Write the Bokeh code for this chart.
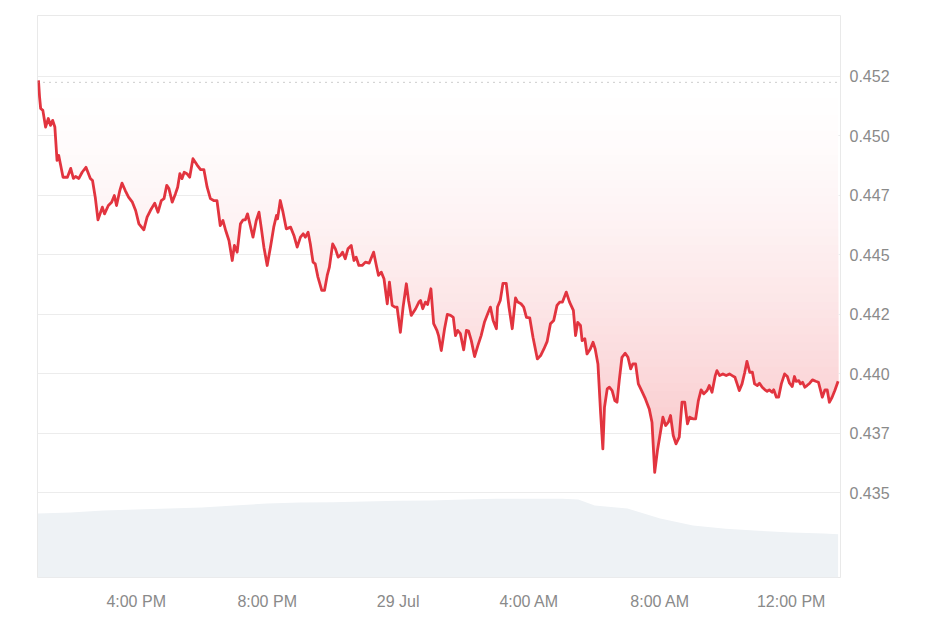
import numpy as np
from datetime import datetime, timedelta
from bokeh.plotting import figure
from bokeh.models import Range1d, FixedTicker, LinearAxis, Span
from bokeh.embed import file_html
from bokeh.resources import INLINE

# ---------------- data ----------------
START = datetime(2024, 7, 28, 13, 0)

# minutes after 28 Jul 13:00
price_minutes = [
    1, 3, 5, 9, 14, 19, 23, 27, 31, 35, 38, 41, 46, 54, 60, 65, 69, 75, 81, 88,
    96, 100, 105, 110, 118, 122, 129, 135, 140, 144, 150, 154, 160, 166, 173, 179, 185, 194, 200, 206,
    214, 220, 226, 231, 236, 240, 246, 252,
    256, 260, 264, 268, 273, 278, 284, 292, 298, 304, 310, 316, 322, 328, 334, 339, 344, 350, 356, 360,
    365, 371, 376, 380, 384, 389, 394, 400, 405, 409, 414, 420, 426, 432, 437, 439, 444, 449, 455, 463,
    469, 475, 481, 486, 490,
    495, 499, 504, 508, 513, 520, 525, 530, 534, 540, 545, 550, 554, 558, 563, 568, 574, 579, 583, 588,
    594, 600, 607, 615, 620, 624, 629, 634, 640, 644, 649, 654, 658, 664, 669, 675, 679, 684, 692, 698,
    701, 705, 710, 714, 720, 725, 731, 734, 739,
    745, 750, 756, 761, 765, 769, 774, 780, 785, 789, 794, 800, 806, 812, 818, 824, 829, 834, 840, 842,
    847, 852, 858, 863, 869, 875, 879, 885, 890, 895, 901, 907, 915, 921, 927, 933, 939, 945, 951, 956,
    961, 968, 974, 981, 985, 989, 994,
    997, 1002, 1006, 1012, 1017, 1021, 1026, 1031, 1035, 1038, 1043, 1047, 1052, 1057, 1061, 1065, 1070, 1076, 1081, 1086,
    1090, 1095, 1100, 1106, 1113, 1120, 1125, 1130, 1135, 1139, 1145, 1150, 1155, 1159, 1164, 1169, 1175, 1180, 1185, 1190,
    1194, 1200, 1205, 1210, 1215, 1220, 1226, 1230, 1235, 1241,
    1244, 1249, 1255, 1261, 1267, 1272, 1277, 1281, 1285, 1290, 1295, 1299, 1304, 1309, 1313, 1318, 1322, 1327, 1332, 1336,
    1340, 1345, 1348, 1353, 1357, 1362, 1368, 1373, 1377, 1382, 1386, 1389, 1394, 1397, 1401, 1405, 1409, 1414, 1419, 1425,
    1430, 1434, 1437, 1442, 1446, 1450, 1455, 1460, 1466,
]

prices = [
    0.45233, 0.45163, 0.45115, 0.45107, 0.45037, 0.45073, 0.45044, 0.45065, 0.45037, 0.44897,
    0.44918, 0.44884, 0.44826, 0.44826, 0.44863, 0.44821, 0.44829, 0.44821, 0.44847, 0.44868,
    0.44821, 0.44812, 0.44742, 0.44647, 0.44700, 0.44672, 0.44707, 0.44721, 0.44749, 0.44707,
    0.44770, 0.44801, 0.44770, 0.44742, 0.44721, 0.44686, 0.44630, 0.44605, 0.44658, 0.44686,
    0.44717, 0.44679, 0.44728, 0.44736, 0.44792, 0.44778, 0.44721, 0.44757,
    0.44784, 0.44841, 0.44820, 0.44847, 0.44841, 0.44826, 0.44904, 0.44876, 0.44858, 0.44858,
    0.44784, 0.44736, 0.44728, 0.44728, 0.44623, 0.44644, 0.44602, 0.44560, 0.44476, 0.44539,
    0.44511, 0.44630, 0.44647, 0.44647, 0.44672, 0.44623, 0.44574, 0.44644, 0.44679, 0.44616,
    0.44532, 0.44455, 0.44532, 0.44616, 0.44665, 0.44651, 0.44728, 0.44679, 0.44609, 0.44616,
    0.44581, 0.44532, 0.44574, 0.44588, 0.44574,
    0.44595, 0.44546, 0.44469, 0.44462, 0.44406, 0.44350, 0.44350, 0.44413, 0.44448, 0.44546,
    0.44525, 0.44490, 0.44497, 0.44511, 0.44483, 0.44525, 0.44539, 0.44476, 0.44490, 0.44455,
    0.44455, 0.44469, 0.44465, 0.44511, 0.44455, 0.44413, 0.44427, 0.44399, 0.44294, 0.44385,
    0.44287, 0.44280, 0.44280, 0.44174, 0.44280, 0.44378, 0.44308, 0.44245, 0.44273, 0.44301,
    0.44308, 0.44273, 0.44301, 0.44291, 0.44357, 0.44210, 0.44182, 0.44160, 0.44097,
    0.44189, 0.44249, 0.44245, 0.44237, 0.44160, 0.44182, 0.44168, 0.44100, 0.44182, 0.44179,
    0.44139, 0.44072, 0.44118, 0.44160, 0.44216, 0.44252, 0.44280, 0.44224, 0.44189, 0.44280,
    0.44308, 0.44380, 0.44380, 0.44280, 0.44189, 0.44319, 0.44301, 0.44294, 0.44280, 0.44237,
    0.44235, 0.44153, 0.44062, 0.44076, 0.44104, 0.44136, 0.44210, 0.44224, 0.44287, 0.44301,
    0.44301, 0.44343, 0.44301, 0.44266, 0.44160, 0.44216, 0.44203,
    0.44139, 0.44147, 0.44083, 0.44104, 0.44132, 0.44104, 0.44041, 0.43831, 0.43684, 0.43859,
    0.43936, 0.43943, 0.43929, 0.43887, 0.43880, 0.43971, 0.44069, 0.44086, 0.44069, 0.44020,
    0.44041, 0.44041, 0.43957, 0.43929, 0.43894, 0.43852, 0.43796, 0.43585, 0.43677, 0.43733,
    0.43817, 0.43782, 0.43796, 0.43824, 0.43740, 0.43705, 0.43733, 0.43880, 0.43880, 0.43789,
    0.43817, 0.43810, 0.43810, 0.43887, 0.43932, 0.43915, 0.43929, 0.43950, 0.43922, 0.43992,
    0.44013, 0.43992, 0.43999, 0.43992, 0.43999, 0.43992, 0.43985, 0.43957, 0.43929, 0.43957,
    0.44006, 0.44052, 0.44006, 0.44006, 0.43957, 0.43950, 0.43960, 0.43943, 0.43932, 0.43926,
    0.43932, 0.43922, 0.43932, 0.43901, 0.43901, 0.43957, 0.43999, 0.43988, 0.43960, 0.43946,
    0.43988, 0.43968, 0.43971, 0.43957, 0.43964, 0.43943, 0.43950, 0.43960, 0.43974, 0.43968,
    0.43964, 0.43929, 0.43901, 0.43932, 0.43932, 0.43880, 0.43901, 0.43929, 0.43968,
]

open_price = 0.45225

# 24h volume (millions), hourly from 13:00
volume_minutes = [0, 60, 120, 180, 240, 300, 360, 420, 480, 540, 600, 660, 720, 780, 840, 900,
                  960, 990, 1020, 1080, 1140, 1200, 1260, 1320, 1380, 1440, 1466]
volumes = [96, 97.5, 100.5, 102, 103.5, 105, 108, 111, 112.5, 113, 114, 115, 115.5, 117, 118, 118,
           118, 117, 108, 103.5, 88.5, 78, 73, 70, 67.5, 66, 65]

x_tick_times = [datetime(2024, 7, 28, 16), datetime(2024, 7, 28, 20), datetime(2024, 7, 29, 0),
                datetime(2024, 7, 29, 4), datetime(2024, 7, 29, 8), datetime(2024, 7, 29, 12)]
x_tick_labels = ["4:00 PM", "8:00 PM", "29 Jul", "4:00 AM", "8:00 AM", "12:00 PM"]

y_tick_values = [0.435, 0.4375, 0.44, 0.4425, 0.445, 0.4475, 0.45, 0.4525]
y_tick_labels = ["0.435", "0.437", "0.440", "0.442", "0.445", "0.447", "0.450", "0.452"]

# ---------------- helpers ----------------
EPOCH = datetime(1970, 1, 1)


def ms(dt):
    return (dt - EPOCH).total_seconds() * 1000.0


def ms_from_minutes(m):
    return ms(START) + np.asarray(m, dtype=float) * 60000.0


def blend(rgb, a):
    r, g, b = (round(255 + (c - 255) * a) for c in rgb)
    return "#%02x%02x%02x" % (r, g, b)


px = ms_from_minutes(price_minutes)
py = np.asarray(prices)
vx = ms_from_minutes(volume_minutes)
vy = np.asarray(volumes)

RED = "#e2343f"
FILL_RGB = (234, 57, 67)
GRID = "#ececec"
LABEL = "#8a8a8a"
FONT = "Liberation Sans"

p = figure(width=934, height=620, x_axis_type="datetime", output_backend="svg",
           toolbar_location=None, min_border_left=37, min_border_right=94,
           min_border_top=15, min_border_bottom=43)
p.x_range = Range1d(ms(START) - 0.8 * 60000, ms(START) + 1470.4 * 60000)
p.y_range = Range1d(0.43143, 0.45506)
p.extra_y_ranges = {"vol": Range1d(0, 843)}

p.background_fill_color = "white"
p.border_fill_color = "white"
p.outline_line_color = "#e9e9e9"
p.outline_line_width = 1

# volume area
p.varea(x=vx, y1=0, y2=vy, y_range_name="vol", fill_color="#eef2f5", fill_alpha=1.0)

# gradient fill between price line and open price: opaque nested layers,
# each one darker and covering the region below its level
pmin = py.min()
n_layers = 48
levels = np.linspace(open_price, pmin, n_layers + 1)[:-1]
a_max = 0.30
for k, lv in enumerate(levels):
    t = (k + 0.5) / n_layers
    a = a_max * t ** 1.5
    top = np.maximum(py, lv)
    p.varea(x=px, y1=py, y2=top, fill_color=blend(FILL_RGB, a), fill_alpha=1.0)

# open price dotted line
p.add_layout(Span(location=open_price, dimension="width", line_color="#9a9a9a",
                  line_width=1, line_dash="1 5"))

# price line
p.line(px, py, line_color=RED, line_width=2.8, line_join="round")

# axes
p.yaxis.visible = False
ry = LinearAxis()
ry.ticker = FixedTicker(ticks=y_tick_values)
ry.major_label_overrides = {v: l for v, l in zip(y_tick_values, y_tick_labels)}
ry.axis_line_color = None
ry.major_tick_line_color = None
ry.minor_tick_line_color = None
ry.major_tick_out = 0
ry.major_tick_in = 0
ry.major_label_standoff = 9
ry.major_label_text_color = LABEL
ry.major_label_text_font = FONT
ry.major_label_text_font_size = "16px"
p.add_layout(ry, "right")

xt = [ms(t) for t in x_tick_times]
xa = p.xaxis[0]
xa.ticker = FixedTicker(ticks=xt)
xa.major_label_overrides = {v: l for v, l in zip(xt, x_tick_labels)}
xa.axis_line_color = None
xa.major_tick_line_color = None
xa.minor_tick_line_color = None
xa.major_tick_out = 0
xa.major_tick_in = 0
xa.major_label_standoff = 15
xa.major_label_text_color = LABEL
xa.major_label_text_font = FONT
xa.major_label_text_font_size = "16px"

p.xgrid.visible = False
p.ygrid.ticker = FixedTicker(ticks=y_tick_values)
p.ygrid.grid_line_color = GRID
p.ygrid.grid_line_width = 1

open("out.html", "w").write(file_html(p, INLINE))
